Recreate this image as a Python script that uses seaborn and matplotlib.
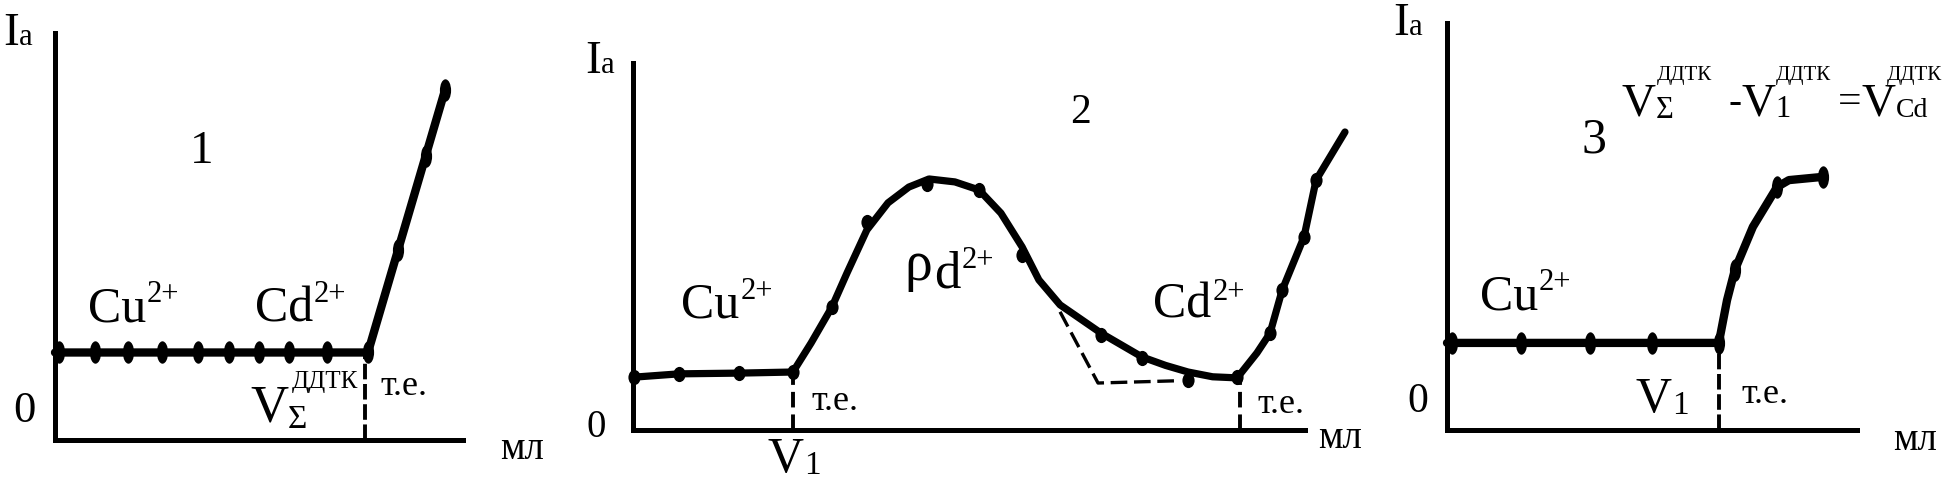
import matplotlib
matplotlib.use("Agg")
import matplotlib.pyplot as plt
import seaborn as sns
from matplotlib.path import Path
from matplotlib.transforms import Affine2D

# ---- data (volume on x, anode current on y, arbitrary units)
# panel 1: Cu2+ and Cd2+ titrated together
p1_line_x = [0.0, 7.67, 9.56]
p1_line_y = [2.15, 2.15, 8.6]
p1_dot_x = [0.1, 0.98, 1.79, 2.62, 3.5, 4.26, 5.0, 5.74, 6.67, 7.67, 8.41, 9.09, 9.56]
p1_dot_y = [2.15, 2.15, 2.15, 2.15, 2.15, 2.15, 2.15, 2.15, 2.15, 2.15, 4.67, 6.99, 8.6]
p1_ep = 7.6

# panel 2: Cu2+, Pd2+, Cd2+
p2_line_x = [0.03, 1.37, 3.15, 4.76, 5.30, 5.92, 6.37, 6.96, 7.59, 8.21, 8.81, 9.58, 10.30,
             10.95, 11.58, 12.08, 12.71, 13.93, 15.15, 15.85, 16.52, 17.25, 17.98, 18.57,
             18.96, 19.32, 19.97, 20.33, 21.19]
p2_line_y = [1.44, 1.53, 1.55, 1.58, 2.37, 3.35, 4.28, 5.45, 6.19, 6.62, 6.84, 6.76, 6.54,
             5.91, 4.99, 4.09, 3.41, 2.64, 1.99, 1.76, 1.58, 1.45, 1.42, 2.10,
             2.64, 3.81, 5.26, 6.81, 8.12]
p2_dot_x = [0.03, 1.37, 3.15, 4.76, 5.92, 6.96, 8.75, 10.30, 11.58, 13.93, 15.15, 16.52,
            17.98, 18.96, 19.32, 19.97, 20.33]
p2_dot_y = [1.44, 1.53, 1.55, 1.58, 3.35, 5.67, 6.70, 6.54, 4.77, 2.59, 1.96, 1.36,
            1.44, 2.64, 3.81, 5.26, 6.81]
p2_ep = [4.76, 18.07]
p2_ep_top = [1.58, 1.42]
p2_tan_x = [12.71, 13.84, 16.13]
p2_tan_y = [3.22, 1.28, 1.34]

# panel 3: Cu2+ only
p3_line_x = [0.0, 6.63, 6.83, 7.02, 7.46, 8.05, 8.34, 9.17]
p3_line_y = [2.14, 2.14, 3.19, 3.93, 4.99, 5.97, 6.14, 6.22]
p3_dot_x = [0.12, 1.80, 3.49, 5.0, 6.63, 7.02, 8.05, 9.17]
p3_dot_y = [2.14, 2.14, 2.14, 2.14, 2.14, 3.93, 5.97, 6.22]
p3_ep = 6.63

sns.set_style("white")
plt.rcParams['font.family'] = ['Liberation Serif', 'DejaVu Serif']

W, H = 1943, 484
fig = plt.figure(figsize=(W / 100, H / 100), dpi=100)

# tall ellipse markers for the points
ell = Path.unit_circle().transformed(Affine2D().scale(0.5, 1.0))
ell2 = Path.unit_circle().transformed(Affine2D().scale(0.8, 1.0))


def make_ax(left, right, top, bottom, xmax):
    ax = fig.add_axes([left / W, 1 - bottom / H, (right - left) / W, (bottom - top) / H])
    ax.set_xlim(0, xmax)
    ax.set_ylim(0, 10)
    ax.set_xticks([])
    ax.set_yticks([])
    for s in ['top', 'right']:
        ax.spines[s].set_visible(False)
    for s in ['left', 'bottom']:
        ax.spines[s].set_linewidth(3.6)
        ax.spines[s].set_color('black')
        ax.spines[s].set_capstyle('projecting')
    ax.patch.set_alpha(0)
    return ax


def put(x, y, s, size, **kw):
    fig.text(x / W, 1 - y / H, s, fontsize=size, ha='left', va='baseline', color='black', **kw)


def ep_line(ax, xv, ytop, dash=(4, 1.2), lw=2.8):
    sns.lineplot(x=[xv, xv], y=[0, ytop], ax=ax, color='black', linewidth=lw,
                 estimator=None, sort=False, linestyle=(0, dash))


# ---- panel 1
ax1 = make_ax(55, 463, 33, 440, 10)
sns.lineplot(x=p1_line_x, y=p1_line_y, ax=ax1, color='black', linewidth=6,
             estimator=None, sort=False, clip_on=False)
sns.scatterplot(x=p1_dot_x, y=p1_dot_y, ax=ax1, color='black', marker=ell, s=260,
                linewidth=0, clip_on=False, zorder=3)
ep_line(ax1, p1_ep, p1_line_y[0])

# ---- panel 2
ax2 = make_ax(633, 1305, 63, 430, 20)
sns.lineplot(x=p2_line_x, y=p2_line_y, ax=ax2, color='black', linewidth=5.2,
             estimator=None, sort=False, clip_on=False)
sns.scatterplot(x=p2_dot_x, y=p2_dot_y, ax=ax2, color='black', marker=ell2, s=120,
                linewidth=0, clip_on=False, zorder=3)
for xv, yt in zip(p2_ep, p2_ep_top):
    ep_line(ax2, xv, yt, dash=(4, 1.8))
sns.lineplot(x=p2_tan_x, y=p2_tan_y, ax=ax2, color='black', linewidth=2.4,
             estimator=None, sort=False, linestyle=(0, (5, 2)))

# ---- panel 3
ax3 = make_ax(1447, 1857, 23, 430, 10)
sns.lineplot(x=p3_line_x, y=p3_line_y, ax=ax3, color='black', linewidth=6,
             estimator=None, sort=False, clip_on=False)
sns.scatterplot(x=p3_dot_x, y=p3_dot_y, ax=ax3, color='black', marker=ell, s=260,
                linewidth=0, clip_on=False, zorder=3)
ep_line(ax3, p3_ep, p3_line_y[0])

# ---- labels, panel 1
put(3, 45, 'I', 34); put(19, 45, 'a', 22)
put(190, 163, '1', 34)
put(88, 322, 'Cu', 36); put(147, 302, '2+', 22)
put(255, 322, 'Cd', 36); put(314, 302, '2+', 22)
put(250, 422, 'V', 38); put(288, 428, 'Σ', 24); put(292, 388, 'ДДТК', 18)
put(380, 395, 'т.е.', 26)
put(13, 422, '0', 32)
put(500, 459, 'мл', 28)

# ---- labels, panel 2
put(585, 73, 'I', 34); put(601, 73, 'a', 22)
put(1070, 123, '2', 30)
put(681, 317, 'Cu', 36); put(741, 299, '2+', 22)
put(904, 280, 'ρ', 40); put(934, 287, 'd', 38); put(962, 268, '2+', 22)
put(1153, 317, 'Cd', 36); put(1213, 300, '2+', 22)
put(811, 410, 'т.е.', 26); put(1257, 413, 'т.е.', 26)
put(586, 437, '0', 28)
put(768, 472, 'V', 36); put(804, 474, '1', 24)
put(1318, 448, 'мл', 28)

# ---- labels, panel 3
put(1393, 35, 'I', 34); put(1409, 35, 'a', 22)
put(1581, 152, '3', 36)
# V_Σ^ДДТК - V_1^ДДТК = V_Cd^ДДТК
put(1622, 115, 'V', 34); put(1656, 118, 'Σ', 22); put(1657, 80, 'ДДТК', 15)
put(1728, 113, '-', 28); put(1741, 115, 'V', 34); put(1775, 117, '1', 22)
put(1776, 80, 'ДДТК', 15)
put(1838, 113, '=', 30); put(1862, 115, 'V', 34); put(1896, 117, 'Cd', 20)
put(1887, 80, 'ДДТК', 15)
put(1480, 310, 'Cu', 36); put(1539, 290, '2+', 22)
put(1407, 412, '0', 30)
put(1636, 412, 'V', 36); put(1672, 414, '1', 24)
put(1741, 403, 'т.е.', 26)
put(1893, 450, 'мл', 28)

fig.savefig('out.png', dpi=100, facecolor='white')
